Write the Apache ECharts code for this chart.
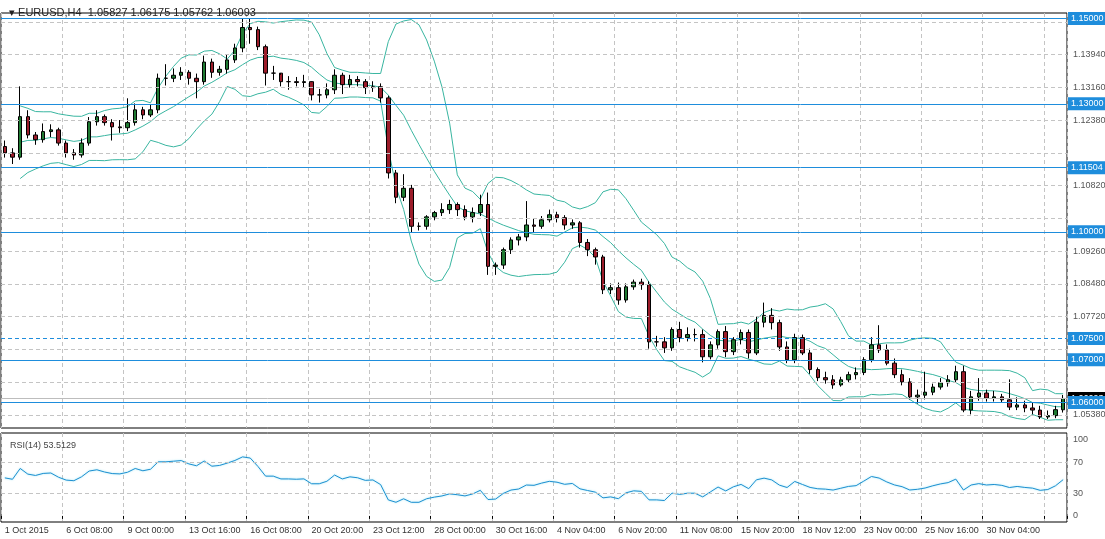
<!DOCTYPE html>
<html><head><meta charset="utf-8">
<script src="https://cdn.jsdelivr.net/npm/echarts@6/dist/echarts.min.js"></script>
<style>html,body{margin:0;padding:0;background:#fff}#c{width:1105px;height:539px}</style>
</head><body><div id="c"></div>
<script>
// 8-hour candles (each spans two H4 bars of the reference)
const closes = [1.1185,1.1175,1.1270,1.1227,1.1216,1.1235,1.1239,1.1208,1.1185,1.1180,
1.1208,1.1258,1.1270,1.1256,1.1246,1.1244,1.1256,1.1286,1.1274,1.1286,
1.1360,1.1360,1.1367,1.1374,1.1360,1.1352,1.1398,1.1374,1.1381,1.1403,
1.1431,1.1479,1.1474,1.1434,1.1372,1.1372,1.1352,1.1352,1.1350,1.1352,
1.1321,1.1321,1.1333,1.1367,1.1345,1.1357,1.1352,1.1338,1.1340,1.1314,
1.1138,1.1081,1.1102,1.1013,1.1013,1.1035,1.1045,1.1052,1.1064,1.1052,
1.1035,1.1045,1.1064,1.0919,1.0922,1.0958,1.0981,1.0988,1.1016,1.1013,
1.1028,1.1040,1.1033,1.1016,1.1021,1.0975,1.0958,1.0941,1.0864,1.0869,
1.0840,1.0871,1.0882,1.0876,1.0742,1.0742,1.0728,1.0771,1.0752,1.0759,
1.0759,1.0707,1.0735,1.0766,1.0719,1.0747,1.0764,1.0716,1.0788,1.0804,
1.0787,1.0730,1.0700,1.0752,1.0716,1.0677,1.0658,1.0653,1.0641,1.0653,
1.0665,1.0670,1.0700,1.0735,1.0723,1.0692,1.0665,1.0648,1.0613,1.0617,
1.0624,1.0636,1.0646,1.0653,1.0672,1.0582,1.0613,1.0622,1.0610,1.0613,
1.0606,1.0589,1.0594,1.0587,1.0582,1.0566,1.0569,1.0583,1.06093];
const opens = [1.1200,1.1185,1.1175,1.1270,1.1227,1.1216,1.1235,1.1239,1.1208,1.1185,
1.1180,1.1208,1.1258,1.1270,1.1256,1.1246,1.1244,1.1256,1.1286,1.1274,
1.1286,1.1360,1.1360,1.1367,1.1374,1.1360,1.1352,1.1398,1.1374,1.1381,
1.1403,1.1431,1.1479,1.1474,1.1434,1.1372,1.1372,1.1352,1.1352,1.1350,
1.1352,1.1321,1.1321,1.1333,1.1367,1.1345,1.1357,1.1352,1.1338,1.1340,
1.1314,1.1138,1.1081,1.1102,1.1013,1.1013,1.1035,1.1045,1.1052,1.1064,
1.1052,1.1035,1.1045,1.1064,1.0919,1.0922,1.0958,1.0981,1.0988,1.1016,
1.1013,1.1028,1.1040,1.1033,1.1016,1.1021,1.0975,1.0958,1.0941,1.0864,
1.0869,1.0840,1.0871,1.0882,1.0876,1.0742,1.0742,1.0728,1.0771,1.0752,
1.0759,1.0759,1.0707,1.0735,1.0766,1.0719,1.0747,1.0764,1.0716,1.0788,
1.0804,1.0787,1.0730,1.0700,1.0752,1.0716,1.0677,1.0658,1.0653,1.0641,
1.0653,1.0665,1.0670,1.0700,1.0735,1.0723,1.0692,1.0665,1.0648,1.0613,
1.0617,1.0624,1.0636,1.0646,1.0653,1.0672,1.0582,1.0613,1.0622,1.0610,
1.0613,1.0606,1.0589,1.0594,1.0587,1.0582,1.0566,1.0569,1.05827];
const highs = [1.1214,1.1196,1.1341,1.1285,1.1234,1.1254,1.1252,1.1244,1.1214,1.1194,
1.1219,1.1269,1.1285,1.1275,1.1264,1.1262,1.1313,1.1301,1.1293,1.1298,
1.1371,1.1393,1.1383,1.1386,1.1379,1.1371,1.1413,1.1406,1.1389,1.1416,
1.1441,1.1499,1.1501,1.1481,1.1439,1.1389,1.1368,1.1365,1.1363,1.1368,
1.1353,1.1335,1.1348,1.1381,1.1373,1.1368,1.1365,1.1358,1.1353,1.1348,
1.1319,1.1145,1.1135,1.1110,1.1022,1.1039,1.1049,1.1067,1.1075,1.1069,
1.1062,1.1057,1.1087,1.1092,1.0928,1.0963,1.0987,1.0995,1.1072,1.1032,
1.1037,1.1052,1.1047,1.1039,1.1029,1.1025,1.0983,1.0963,1.0946,1.0879,
1.0881,1.0879,1.0888,1.0890,1.0884,1.0756,1.0753,1.0776,1.0789,1.0776,
1.0773,1.0771,1.0743,1.0771,1.0779,1.0753,1.0771,1.0771,1.0801,1.0834,
1.0821,1.0794,1.0743,1.0761,1.0759,1.0726,1.0682,1.0672,1.0664,1.0660,
1.0672,1.0682,1.0706,1.0753,1.0781,1.0736,1.0703,1.0677,1.0657,1.0630,
1.0672,1.0644,1.0657,1.0664,1.0686,1.0686,1.0627,1.0657,1.0630,1.0627,
1.0620,1.0654,1.0612,1.0604,1.0600,1.0592,1.0581,1.0592,1.06175];
const lows = [1.1174,1.1159,1.1169,1.1219,1.1204,1.1209,1.1222,1.1202,1.1174,1.1169,
1.1174,1.1202,1.1249,1.1249,1.1214,1.1232,1.1236,1.1249,1.1264,1.1269,
1.1278,1.1343,1.1351,1.1356,1.1345,1.1313,1.1345,1.1361,1.1366,1.1371,
1.1396,1.1421,1.1441,1.1426,1.1343,1.1356,1.1341,1.1333,1.1341,1.1338,
1.1308,1.1303,1.1313,1.1323,1.1323,1.1338,1.1341,1.1323,1.1328,1.1303,
1.1125,1.1067,1.1072,1.0998,1.1003,1.1005,1.1027,1.1037,1.1042,1.1037,
1.1027,1.1022,1.1037,1.0899,1.0899,1.0913,1.0948,1.0968,1.0978,1.0998,
1.1007,1.1022,1.1022,1.1005,1.1007,1.0963,1.0943,1.0923,1.0854,1.0854,
1.0829,1.0834,1.0864,1.0864,1.0726,1.0731,1.0716,1.0721,1.0741,1.0743,
1.0743,1.0694,1.0701,1.0726,1.0706,1.0711,1.0736,1.0703,1.0711,1.0776,
1.0771,1.0721,1.0692,1.0692,1.0711,1.0667,1.0650,1.0644,1.0632,1.0637,
1.0647,1.0654,1.0664,1.0694,1.0716,1.0687,1.0657,1.0640,1.0607,1.0597,
1.0607,1.0617,1.0630,1.0637,1.0647,1.0577,1.0572,1.0604,1.0602,1.0602,
1.0600,1.0582,1.0582,1.0577,1.0572,1.0561,1.0561,1.0563,1.05762];
const xTickLabels = ['1 Oct 2015','6 Oct 08:00','9 Oct 00:00','13 Oct 16:00','16 Oct 08:00','20 Oct 20:00',
'23 Oct 12:00','28 Oct 00:00','30 Oct 16:00','4 Nov 04:00','6 Nov 20:00','11 Nov 08:00',
'15 Nov 20:00','18 Nov 12:00','23 Nov 00:00','25 Nov 16:00','30 Nov 04:00'];
// price-scale grid lines: where each line sits, and the text printed next to it
const gridPrices = [1.14922,1.14154,1.13387,1.12619,1.11851,1.11084,1.10316,1.09548,1.08781,1.08013,1.07245,1.06478,1.05710];
const gridLabels = ['1.14720','1.13940','1.13160','1.12380','1.11600','1.10820','1.10040','1.09260','1.08480','1.07720','1.06940','1.06160','1.05380'];
const hiddenGridLabels = ['1.11600','1.10040','1.06940','1.06160'];
const levels = [1.15000,1.13000,1.11504,1.10000,1.07500,1.07000,1.06000];
const dashedLevels = [1.07500];
const lastPrice = 1.06093;
const rsiTicks = [0,30,70,100];

const N = closes.length;
const cats = closes.map((_, i) => (i % 8 === 0 && xTickLabels[i/8]) ? xTickLabels[i/8] : '');
const candles = closes.map((c, i) => [opens[i], c, lows[i], highs[i]]);
// Bollinger bands (10 x 8h ≈ 20 x H4, 2 sd)
const P = 10, up = [], mid = [], lo = [];
for (let i = 0; i < N; i++) {
  if (i < 2) { up.push('-'); mid.push('-'); lo.push('-'); continue; }
  const w = closes.slice(Math.max(0, i - P + 1), i + 1);
  const m = w.reduce((a, b) => a + b, 0) / w.length;
  const sd = Math.sqrt(w.reduce((a, b) => a + (b - m) * (b - m), 0) / w.length);
  mid.push(m); up.push(m + 2 * sd); lo.push(m - 2 * sd);
}
// RSI
const R = 12, rsi = [];
let ag = 0, al = 0;
for (let i = 0; i < N; i++) {
  const d = i === 0 ? closes[0] - opens[0] : closes[i] - closes[i-1];
  const g = Math.max(d, 0), l = Math.max(-d, 0);
  if (i === 0) { ag = 0.0012; al = 0.0012; } else { ag = (ag*(R-1)+g)/R; al = (al*(R-1)+l)/R; }
  rsi.push(100 - 100/(1 + ag/al));
}

const lvlBlue = '#1e8ddc';
const ch = echarts.init(document.getElementById('c'));
const fontF = 'Liberation Sans, Arial, sans-serif';
const hSeries = [];
const addH = (v, lineStyle, label, z) => hSeries.push({type:'line', data:[], xAxisIndex:0, yAxisIndex:0, z:z, silent:true,
  labelLayout:{hideOverlap:false},
  markLine:{silent:true, symbol:'none', animation:false, precision:5,
    data:[{yAxis:v, lineStyle:lineStyle, label:Object.assign({position:'end'}, label)}]}});
gridPrices.forEach((v, k) => addH(v, {color:'#c4c4c4', type:[4,3], width:1},
  {show: !hiddenGridLabels.includes(gridLabels[k]), formatter: gridLabels[k], color:'#555', fontSize:9, fontFamily:fontF, distance:6}, 1));
addH(lastPrice, {color:'#bdbdbd', type:'solid', width:1},
  {formatter:lastPrice.toFixed(5), color:'#fff', backgroundColor:'#000', fontSize:9, fontFamily:fontF, padding:[2,3], distance:1}, 2);
levels.forEach(v => addH(v, {color:lvlBlue, type: dashedLevels.includes(v)?[4,3]:'solid', width:1},
  {formatter: v.toFixed(5), color:'#fff', backgroundColor:lvlBlue, fontSize:9, fontFamily:fontF, padding:[2,3], distance:1}, 4));

const bandStyle = {color:'#38b5a0', width:1};
ch.setOption({
  animation:false,
  textStyle:{fontFamily:fontF},
  title:[{text:'▾ EURUSD,H4  1.05827 1.06175 1.05762 1.06093', left:4, top:2, textStyle:{fontSize:11, fontWeight:'normal', color:'#222', fontFamily:fontF}},
         {text:'RSI(14) 53.5129', left:5, top:436, textStyle:{fontSize:9, fontWeight:'normal', color:'#444', fontFamily:fontF}}],
  grid:[{left:1, right:38, top:13, height:415, show:true, borderColor:'#000', borderWidth:1},
        {left:1, right:38, top:433, height:89, show:true, borderColor:'#000', borderWidth:1}],
  xAxis:[{type:'category', data:cats, gridIndex:0, boundaryGap:true, axisLine:{show:false}, axisTick:{show:false}, axisLabel:{show:false},
          splitLine:{show:true, interval:(i)=>i%8===0, lineStyle:{color:'#c4c4c4', type:[4,3]}}},
         {type:'category', data:cats, gridIndex:1, boundaryGap:true, axisLine:{show:false},
          axisTick:{show:true, interval:(i)=>i%8===0, length:3, lineStyle:{color:'#000'}},
          axisLabel:{interval:(i)=>i%8===0, align:'left', color:'#333', fontSize:9, margin:4, fontFamily:fontF},
          splitLine:{show:true, interval:(i)=>i%8===0, lineStyle:{color:'#c4c4c4', type:[4,3]}}}],
  yAxis:[{type:'value', gridIndex:0, position:'right', min:1.0540, max:1.1513, axisLabel:{show:false}, splitLine:{show:false}, axisLine:{show:false}, axisTick:{show:false}},
         {type:'value', gridIndex:1, position:'right', min:-8, max:109, axisLine:{show:false}, splitLine:{show:false}, axisTick:{show:false}, axisLabel:{show:false}}],
  series:[
    {type:'candlestick', xAxisIndex:0, yAxisIndex:0, data:candles, barWidth:4, z:3,
     itemStyle:{color:'#1f7a32', color0:'#9c1c2a', borderColor:'#000', borderColor0:'#000', borderWidth:1}},
    {type:'line', data:up, symbol:'none', lineStyle:bandStyle, xAxisIndex:0, yAxisIndex:0, z:2},
    {type:'line', data:mid, symbol:'none', lineStyle:bandStyle, xAxisIndex:0, yAxisIndex:0, z:2},
    {type:'line', data:lo, symbol:'none', lineStyle:bandStyle, xAxisIndex:0, yAxisIndex:0, z:2},
    {type:'line', data:rsi, symbol:'none', xAxisIndex:1, yAxisIndex:1,
     lineStyle:{color:'#1e8fd0', width:1, shadowColor:'rgba(120,220,240,0.8)', shadowBlur:2},
     markLine:{silent:true, symbol:'none', animation:false, label:{position:'end', color:'#555', fontSize:9, distance:6, fontFamily:fontF},
       data:rsiTicks.map(v=>({yAxis:v, label:{formatter:String(v)}, lineStyle:{color:(v===30||v===70)?'#c4c4c4':'rgba(0,0,0,0)', type:[4,3], width:1}}))}}
  ].concat(hSeries)
});
</script></body></html>
